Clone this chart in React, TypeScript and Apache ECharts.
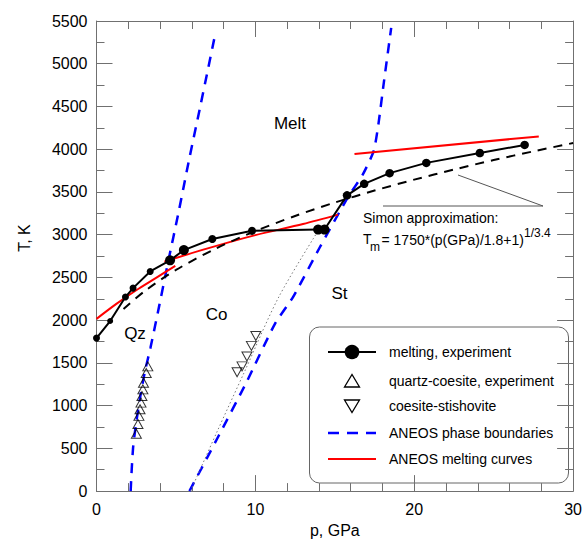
import React, { useEffect, useRef } from "react";
import * as echarts from "echarts";

// melting, experiment
const meltP = [0, 0.86, 1.82, 2.3, 3.38, 4.63, 5.5, 7.29, 9.79, 13.95, 14.35, 15.77, 16.85, 18.45, 20.76, 24.13, 26.95];
const meltT = [1790, 1990, 2270, 2375, 2570, 2700, 2820, 2950, 3045, 3060, 3060, 3460, 3595, 3720, 3840, 3955, 4050];
// quartz-coesite, experiment
const qcP = [2.51, 2.61, 2.67, 2.74, 2.8, 2.86, 2.92, 2.96, 3.13, 3.23];
const qcT = [670, 785, 880, 958, 1035, 1112, 1190, 1267, 1382, 1459];
// coesite-stishovite
const csP = [8.85, 9.16, 9.47, 9.75, 10.03];
const csT = [1390, 1459, 1575, 1699, 1815];
// Simon approximation (dashed black)
const simonP = [1.7, 3, 5, 7.5, 10, 12.5, 15, 17.5, 20, 22.5, 25, 27.5, 30];
const simonT = [2130, 2335, 2587, 2837, 3042, 3219, 3376, 3516, 3644, 3762, 3873, 3975, 4072];
// ANEOS melting curves (red)
const red1P = [0, 1.25, 2.5, 3.75, 4.96];
const red1T = [2015, 2190, 2350, 2495, 2635];
const red2P = [4.27, 7, 10, 13, 15.2];
const red2T = [2685, 2840, 2995, 3125, 3235];
const red3P = [16.24, 27.84];
const red3T = [3945, 4150];
// ANEOS phase boundaries (blue dashed)
const blue1P = [2.15, 2.3, 2.5, 2.75, 3.05, 3.4, 3.95, 4.53, 5.13, 5.82, 6.52, 7.41];
const blue1T = [0, 500, 800, 1100, 1400, 1680, 2170, 2700, 3230, 3870, 4490, 5290];
const blue2P = [5.85, 7.7, 9.47, 11.24, 12.37, 14.05, 15.8, 16.75, 17.45, 17.75, 18.1, 18.55];
const blue2T = [0, 650, 1285, 1960, 2270, 2850, 3430, 3700, 3980, 4300, 4800, 5420];
// dotted coesite-stishovite extrapolation
const dotP = [5.92, 7.6, 9.3, 11.47, 13.95];
const dotT = [0, 700, 1390, 2270, 3045];

const xTicks = { min: 0, max: 30, interval: 10 };
const yTicks = { min: 0, max: 5500, interval: 500 };

// style: dot sizes for the melting points
const meltDotSizes = [7, 6, 7, 7, 7, 10, 10, 8, 8, 10, 10, 8.5, 8.5, 8.5, 8.5, 8.5, 8.5];

const FONT = 'Arial, "Liberation Sans", Helvetica, sans-serif';
const AXIS_COLOR = "#707070";

const zip = (a: number[], b: number[]) => a.map((v, i) => [v, b[i]]);

export default function App() {
  const ref = useRef<HTMLDivElement>(null);
  useEffect(() => {
    if (!ref.current) return;
    const chart = echarts.init(ref.current, undefined, { renderer: "svg" });

    const axisCommon = {
      type: "value" as const,
      splitLine: { show: false },
      axisLine: { show: true, onZero: false, lineStyle: { color: AXIS_COLOR, width: 1 } },
      axisTick: { show: true, inside: true, length: 16, lineStyle: { color: AXIS_COLOR } },
      minorTick: { show: true, length: 8, lineStyle: { color: AXIS_COLOR } },
    };
    const plainLabel = (v: number) => String(v);

    const legendX1 = 328, legendX2 = 376, legendCx = 352, legendTextX = 389;
    const rows = [352, 381, 406, 433, 459];
    const triUp = (cx: number, cy: number) => [[cx - 7.5, cy + 6], [cx + 7.5, cy + 6], [cx, cy - 6.5]];
    const triDown = (cx: number, cy: number) => [[cx - 7.5, cy - 6], [cx + 7.5, cy - 6], [cx, cy + 6.5]];

    const legendTexts = [
      "melting, experiment",
      "quartz-coesite, experiment",
      "coesite-stishovite",
      "ANEOS phase boundaries",
      "ANEOS melting curves",
    ];

    chart.setOption({
      animation: false,
      backgroundColor: "#ffffff",
      textStyle: { fontFamily: FONT },
      grid: { left: 96.5, top: 21, width: 481, height: 475, containLabel: false },
      xAxis: [
        {
          ...axisCommon,
          ...xTicks,
          position: "bottom",
          minorTick: { ...axisCommon.minorTick, splitNumber: 5 },
          axisLabel: { show: true, color: "#000", fontSize: 16, margin: 10, fontFamily: FONT, formatter: plainLabel },
          name: "p, GPa",
          nameLocation: "middle",
          nameGap: 30,
          nameTextStyle: { color: "#000", fontSize: 16, fontFamily: FONT },
        },
        {
          ...axisCommon,
          ...xTicks,
          position: "top",
          minorTick: { ...axisCommon.minorTick, splitNumber: 5 },
          axisLabel: { show: false },
        },
      ],
      yAxis: [
        {
          ...axisCommon,
          ...yTicks,
          position: "left",
          minorTick: { ...axisCommon.minorTick, splitNumber: 2 },
          axisLabel: { show: true, color: "#000", fontSize: 16, margin: 9, fontFamily: FONT, formatter: plainLabel },
        },
        {
          ...axisCommon,
          ...yTicks,
          position: "right",
          minorTick: { ...axisCommon.minorTick, splitNumber: 2 },
          axisLabel: { show: false },
        },
      ],
      series: [
        {
          name: "ANEOS phase boundaries",
          type: "line",
          data: zip(blue1P, blue1T),
          smooth: 0.3,
          symbol: "none",
          lineStyle: { color: "#0000ff", width: 2.5, type: [10, 8] },
          z: 2,
        },
        {
          name: "ANEOS phase boundaries 2",
          type: "line",
          data: zip(blue2P, blue2T),
          smooth: 0.2,
          symbol: "none",
          lineStyle: { color: "#0000ff", width: 2.5, type: [10, 8] },
          z: 2,
        },
        {
          name: "dotted",
          type: "line",
          data: zip(dotP, dotT),
          smooth: 0.3,
          symbol: "none",
          lineStyle: { color: "#777777", width: 1, type: [1.5, 2.5] },
          z: 2,
        },
        {
          name: "ANEOS melting curves",
          type: "line",
          data: zip(red1P, red1T),
          smooth: 0.3,
          symbol: "none",
          lineStyle: { color: "#ff0000", width: 2 },
          z: 3,
        },
        {
          name: "ANEOS melting curves 2",
          type: "line",
          data: zip(red2P, red2T),
          smooth: 0.3,
          symbol: "none",
          lineStyle: { color: "#ff0000", width: 2 },
          z: 3,
        },
        {
          name: "ANEOS melting curves 3",
          type: "line",
          data: zip(red3P, red3T),
          symbol: "none",
          lineStyle: { color: "#ff0000", width: 2 },
          z: 3,
        },
        {
          name: "Simon approximation",
          type: "line",
          data: zip(simonP, simonT),
          smooth: 0.3,
          symbol: "none",
          lineStyle: { color: "#000", width: 2, type: [9, 7] },
          z: 3,
        },
        {
          name: "quartz-coesite, experiment",
          type: "scatter",
          data: zip(qcP, qcT),
          symbol: "triangle",
          symbolSize: [10, 9],
          itemStyle: { color: "rgba(0,0,0,0)", borderColor: "#000", borderWidth: 1 },
          z: 4,
        },
        {
          name: "coesite-stishovite",
          type: "scatter",
          data: zip(csP, csT),
          symbol: "triangle",
          symbolRotate: 180,
          symbolSize: [10, 9],
          itemStyle: { color: "rgba(0,0,0,0)", borderColor: "#000", borderWidth: 1 },
          z: 4,
        },
        {
          name: "melting, experiment",
          type: "line",
          data: zip(meltP, meltT),
          symbol: "circle",
          showAllSymbol: true,
          symbolSize: (_v: any, p: any) => meltDotSizes[p.dataIndex],
          itemStyle: { color: "#000" },
          lineStyle: { color: "#000", width: 2 },
          z: 5,
        },
      ],
      graphic: [
        {
          type: "text",
          x: 24,
          y: 238,
          rotation: Math.PI / 2,
          style: { text: "T, K", font: `16px ${FONT}`, fill: "#000", align: "center", verticalAlign: "middle" },
        },
        { type: "text", x: 290, y: 123, style: { text: "Melt", font: `17px ${FONT}`, fill: "#000", align: "center", verticalAlign: "middle" } },
        { type: "text", x: 135, y: 333, style: { text: "Qz", font: `17px ${FONT}`, fill: "#000", align: "center", verticalAlign: "middle" } },
        { type: "text", x: 216.5, y: 314, style: { text: "Co", font: `17px ${FONT}`, fill: "#000", align: "center", verticalAlign: "middle" } },
        { type: "text", x: 339.5, y: 293, style: { text: "St", font: `17px ${FONT}`, fill: "#000", align: "center", verticalAlign: "middle" } },
        {
          type: "polyline",
          shape: { points: [[458, 175], [543, 206], [383, 206]] },
          style: { stroke: "#555", lineWidth: 1, fill: "none" },
        },
        { type: "text", x: 363, y: 218, style: { text: "Simon approximation:", font: `14px ${FONT}`, fill: "#000", align: "left", verticalAlign: "middle" } },
        { type: "text", x: 363, y: 239, style: { text: "T", font: `14px ${FONT}`, fill: "#000", align: "left", verticalAlign: "middle" } },
        { type: "text", x: 370, y: 247, style: { text: "m", font: `12px ${FONT}`, fill: "#000", align: "left", verticalAlign: "middle" } },
        { type: "text", x: 381.5, y: 240, style: { text: "= 1750*(p(GPa)/1.8+1)", font: `14px ${FONT}`, fill: "#000", align: "left", verticalAlign: "middle" } },
        { type: "text", x: 524, y: 232.5, style: { text: "1/3.4", font: `12px ${FONT}`, fill: "#000", align: "left", verticalAlign: "middle" } },
        {
          type: "rect",
          shape: { x: 309.5, y: 327, width: 259, height: 156, r: 10 },
          style: { fill: "none", stroke: "#666", lineWidth: 1 },
        },
        { type: "line", shape: { x1: legendX1, y1: rows[0], x2: legendX2, y2: rows[0] }, style: { stroke: "#000", lineWidth: 2 } },
        { type: "circle", shape: { cx: legendCx, cy: rows[0], r: 7.3 }, style: { fill: "#000" } },
        { type: "polygon", shape: { points: triUp(legendCx, rows[1]) }, style: { fill: "none", stroke: "#000", lineWidth: 1.3 } },
        { type: "polygon", shape: { points: triDown(legendCx, rows[2]) }, style: { fill: "none", stroke: "#000", lineWidth: 1.3 } },
        { type: "line", shape: { x1: legendX1, y1: rows[3], x2: legendX2, y2: rows[3] }, style: { stroke: "#0000ff", lineWidth: 2.5, lineDash: [11, 8] } },
        { type: "line", shape: { x1: legendX1, y1: rows[4], x2: legendX2, y2: rows[4] }, style: { stroke: "#ff0000", lineWidth: 2 } },
        ...legendTexts.map((t, i) => ({
          type: "text",
          x: legendTextX,
          y: rows[i],
          style: { text: t, font: `14px ${FONT}`, fill: "#000", align: "left", verticalAlign: "middle" },
        })),
      ],
    });
    return () => chart.dispose();
  }, []);

  return (
    <div
      ref={ref}
      style={{ position: "fixed", left: 0, top: 0, width: 585, height: 543, background: "#fff" }}
    />
  );
}
